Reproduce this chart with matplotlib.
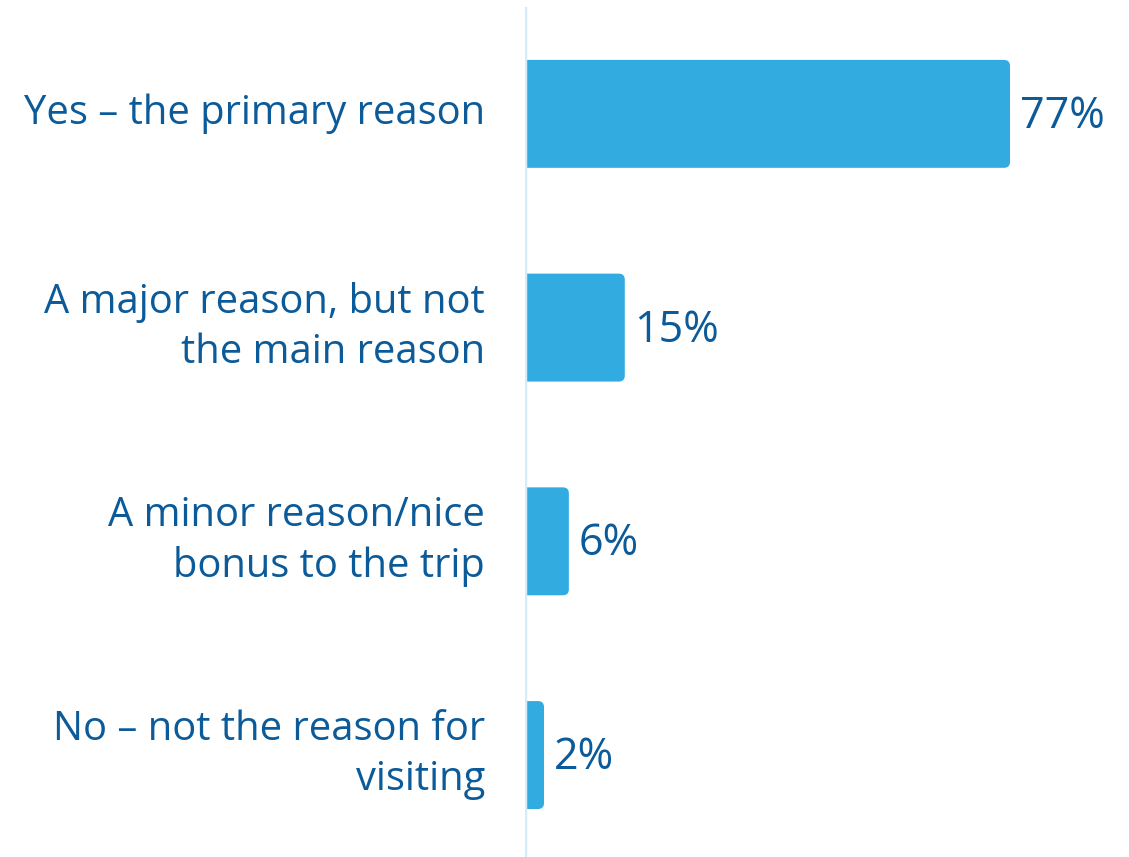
import matplotlib
matplotlib.use("Agg")
import matplotlib.pyplot as plt
from matplotlib.patches import FancyBboxPatch

labels = [
    "Yes \u2013 the primary reason",
    "A major reason, but not\nthe main reason",
    "A minor reason/nice\nbonus to the trip",
    "No \u2013 not the reason for\nvisiting",
]
values = [77, 15, 6, 2]

bar_color = "#31abe0"
text_color = "#0b5a99"
axis_color = "#d3ecfb"

plt.rcParams["font.family"] = ["Open Sans", "DejaVu Sans"]

W, H = 1129, 857
fig = plt.figure(figsize=(W / 100, H / 100), dpi=100)
ax = fig.add_axes([525 / W, 0, 1 - 525 / W, 1 - 7 / H])

x_lo, x_hi = -1.06, 96.15
y_top, y_bot = -0.5, 3.477
ax.set_xlim(x_lo, x_hi)
ax.set_ylim(y_bot, y_top)

# pixel sizes of one data unit, used to keep corners circular
px_x = (1 - 525 / W) * W / (x_hi - x_lo)
px_y = (1 - 7 / H) * H / (y_bot - y_top)

bar_h = 0.505
radius_px = 6
for i, v in enumerate(values):
    # start well left of the axes so only the right corners show rounded
    left = -5
    width = v - left
    box = FancyBboxPatch(
        (left, i - bar_h / 2), width, bar_h,
        boxstyle="round,pad=0,rounding_size=%f" % (radius_px / px_x),
        mutation_aspect=px_x / px_y,
        facecolor=bar_color, edgecolor="none", clip_on=True,
    )
    ax.add_patch(box)
    ax.annotate("%d%%" % v, xy=(v, i), xytext=(7, -2), textcoords="offset points",
                ha="left", va="center", fontsize=31, color=text_color)
    ax.annotate(labels[i], xy=(0, i), xycoords=("axes fraction", "data"),
                xytext=(-40 * 0.72, 0), textcoords="offset points",
                ha="right", va="center", fontsize=28.7, color=text_color,
                linespacing=1.3, annotation_clip=False)

ax.axvline(x_lo, color=axis_color, lw=2.5)
for s in ax.spines.values():
    s.set_visible(False)
ax.set_xticks([])
ax.set_yticks([])

fig.savefig("out.png", dpi=100)
